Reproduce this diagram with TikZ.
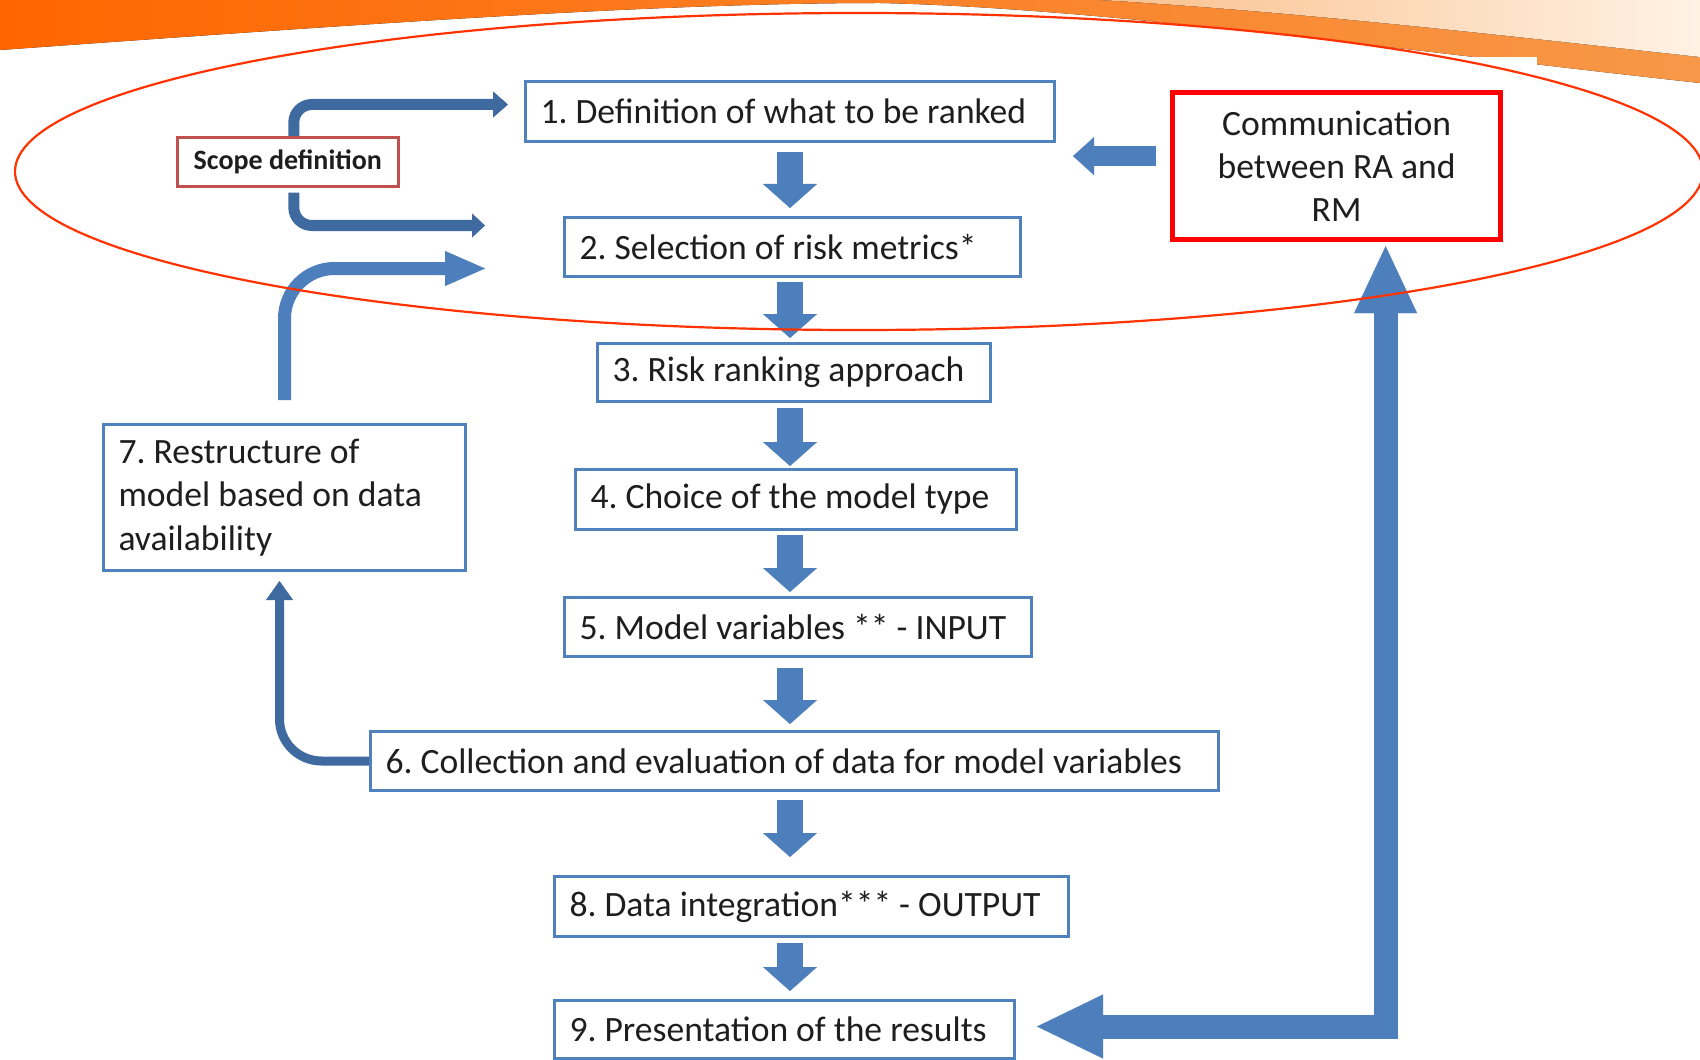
\documentclass[tikz,border=0pt]{standalone}
\usepackage{fontspec}
\setmainfont{Carlito}
\usetikzlibrary{arrows.meta,calc}

\definecolor{boxblue}{RGB}{79,129,189}
\definecolor{arrowblue}{RGB}{76,127,188}
\definecolor{darkarrow}{RGB}{63,106,160}
\definecolor{scopered}{RGB}{192,80,77}
\definecolor{commred}{RGB}{255,0,0}
\definecolor{ringred}{RGB}{255,50,0}
\definecolor{inktext}{RGB}{30,30,30}
\definecolor{orangeA}{RGB}{255,102,0}
\definecolor{orangeB}{RGB}{247,152,72}
\definecolor{peachA}{RGB}{250,192,140}
\definecolor{peachB}{RGB}{255,242,228}

% one line of step text, left aligned in a field of the given width
\newcommand\linetext[2]{\makebox[#1][l]{#2}}

\tikzset{
  stepbox/.style={draw=boxblue, line width=1.5pt, fill=white, anchor=north west,
    align=flush left, inner xsep=7.5pt, inner ysep=0pt, text=inktext,
    font=\fontsize{17.8}{21.7}\selectfont\frenchspacing},
  commbox/.style={draw=commred, line width=2.6pt, fill=white, anchor=north west,
    align=center, inner sep=0pt, text=inktext,
    font=\fontsize{17.8}{21.7}\selectfont},
  scopebox/.style={draw=scopered, line width=1.3pt, fill=white, anchor=north west,
    align=center, inner sep=0pt, text=inktext,
    font=\fontsize{14}{16}\selectfont\bfseries},
  flow/.style={draw=arrowblue, line width=13pt,
    -{Triangle[width=27pt,length=12pt,line width=0.1pt]}},
  sideflow/.style={draw=arrowblue, line width=10pt,
    -{Triangle[width=19pt,length=10.5pt,line width=0.1pt]}},
  bigflow/.style={draw=arrowblue, line width=12pt, line join=miter,
    {Triangle[width=31.5pt,length=33.5pt,line width=0.1pt]}-{Triangle[width=32pt,length=33pt,line width=0.1pt]}},
  loopflow/.style={draw=arrowblue, line width=6.5pt, rounded corners=25pt,
    -{Triangle[width=17.5pt,length=20pt,line width=0.1pt]}},
  backflow/.style={draw=darkarrow, line width=4.5pt, rounded corners=21pt,
    -{Triangle[width=13.5pt,length=9.5pt,line width=0.1pt]}},
  scopeflow/.style={draw=darkarrow, line width=5.5pt, rounded corners=9pt,
    -{Triangle[width=13pt,length=7.5pt,line width=0.1pt]}},
  ring/.style={draw=ringred, line width=1.1pt},
}

\begin{document}
\begin{tikzpicture}[x=0.5pt,y=-0.5pt]
\useasboundingbox (0,0) rectangle (1700,1059);

% header swoosh
\fill[left color=orangeA, right color=orangeB]
  (0,0) -- (0,50) .. controls (350,25) and (650,3) .. (880,3)
  .. controls (1100,8) and (1400,50) .. (1700,83) -- (1700,0) -- cycle;
\fill[left color=peachA, right color=peachB]
  (1100,0) .. controls (1300,12) and (1500,35) .. (1700,57) -- (1700,0) -- cycle;
\fill[white] (0,57) rectangle (1537,1059);

% process steps
\node[stepbox, minimum height=30pt]
  (b1) at (524,80) {\linetext{249.5pt}{1. Definition of what to be ranked}};
\node[stepbox, minimum height=29.5pt]
  (b2) at (563,216) {\linetext{213pt}{2. Selection of risk metrics*}};
\node[stepbox, minimum height=29pt]
  (b3) at (596,342) {\linetext{181.5pt}{3. Risk ranking approach}};
\node[stepbox, minimum height=30pt]
  (b4) at (574,468) {\linetext{205.5pt}{4. Choice of the model type}};
\node[stepbox, minimum height=29.5pt]
  (b5) at (563,596) {\linetext{218.5pt}{5. Model variables ** - INPUT}};
\node[stepbox, minimum height=29.5pt]
  (b6) at (369,730) {\linetext{409pt}{6. Collection and evaluation of data for model variables}};
\node[stepbox, minimum height=73pt, text width=166pt]
  (b7) at (102,423) {7. Restructure of\\model based on data\\availability};
\node[stepbox, minimum height=30pt]
  (b8) at (553,875) {\linetext{242pt}{8. Data integration*** - OUTPUT}};
\node[stepbox, minimum height=29pt]
  (b9) at (553,999) {\linetext{215pt}{9. Presentation of the results}};

\node[commbox, minimum width=164pt, minimum height=73.5pt]
  (comm) at (1170,90) {Communication\\between RA and\\RM};
\node[scopebox, minimum width=110.5pt, minimum height=24.5pt]
  (scope) at (176,136) {Scope definition};

% main chain
\coordinate (col) at (790,0);
\draw[flow] ($(b1.south -| col)+(0,9)$) -- ($(b2.north -| col)+(0,-8)$);
\draw[flow] ($(b2.south -| col)+(0,4)$) -- ($(b3.north -| col)+(0,-4)$);
\draw[flow] ($(b3.south -| col)+(0,5)$) -- ($(b4.north -| col)+(0,-2)$);
\draw[flow] ($(b4.south -| col)+(0,4)$) -- ($(b5.north -| col)+(0,-4)$);
\draw[flow] ($(b5.south -| col)+(0,10)$) -- ($(b6.north -| col)+(0,-6)$);
\draw[flow] ($(b6.south -| col)+(0,8)$) -- ($(b8.north -| col)+(0,-18)$);
\draw[flow] ($(b8.south -| col)+(0,5)$) -- ($(b9.north -| col)+(0,-8)$);

% communication links
\draw[sideflow] ($(comm.west)+(-14,-10)$) -- ($(comm.west)+(-97,-10)$);
\draw[bigflow] ($(comm.south)+(49,4)$) |- ($(b9.east)+(21,-3)$);

% feedback loop
\draw[backflow] (b6.west) -| ($(b7.south)+(-5,9)$);
\draw[loopflow] ($(b7.north)+(0,-23)$) |- ($(b2.west)+(-78,21.5)$);

% scope arrows
\draw[scopeflow] ($(scope.north)+(6,0)$) |- ($(b1.west)+(-16,-7)$);
\draw[scopeflow, -{Triangle[width=12pt,length=6.5pt,line width=0.1pt]}]
  ($(scope.south)+(6,5)$) |- ($(b2.west)+(-78,-21.5)$);

% scope ring
\draw[ring] (859,171.5) ellipse [x radius=422pt, y radius=79.25pt];
\end{tikzpicture}
\end{document}
